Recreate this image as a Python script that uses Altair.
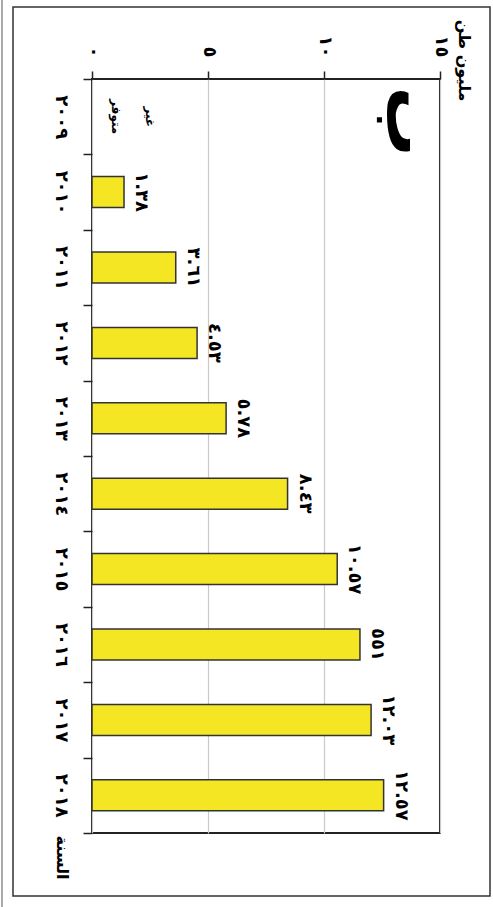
import altair as alt
import pandas as pd

# Annual output, million tonnes (2009 not available)
years = ["٢٠٠٩", "٢٠١٠", "٢٠١١", "٢٠١٢", "٢٠١٣", "٢٠١٤", "٢٠١٥", "٢٠١٦", "٢٠١٧", "٢٠١٨"]
values = [None, 1.38, 3.61, 4.53, 5.78, 8.43, 10.57, 11.55, 12.03, 12.57]
value_labels = ["", "١.٣٨", "٣.٦١", "٤.٥٣", "٥.٧٨", "٨.٤٣", "١٠.٥٧", "٥٥١", "١٢.٠٣", "١٢.٥٧"]

x_ticks = [0, 5, 10, 15]
x_tick_labels = ["٠", "٥", "١٠", "١٥"]

# "not available" note for 2009, one word per line
note_words = ["غير", "متوفر"]
note_pos = [2.5, 1.05]
panel_letter = "ب"
value_title = "مليون طن"
year_title = "السنة"

FONT = "DejaVu Sans"

df = pd.DataFrame({"year": years, "value": values, "label": value_labels})

# tick label expression mapping numbers to Arabic-Indic digits
label_expr = "''"
for t, s in reversed(list(zip(x_ticks, x_tick_labels))):
    label_expr = f"datum.value == {t} ? '{s}' : ({label_expr})"

x_axis = alt.Axis(
    orient="top", values=x_ticks, labelExpr=label_expr,
    grid=True, gridColor="#cdc8c4", gridWidth=1.2,
    domain=False, ticks=True, tickSize=8, tickColor="#222", tickWidth=1.5,
    labelAngle=90, labelAlign="right", labelBaseline="middle", labelPadding=14,
    labelFont=FONT, labelFontSize=18, labelFontWeight="bold", labelColor="black",
    title=value_title, titleAngle=90, titleAlign="center", titleBaseline="middle",
    titleX=371, titleY=-19, titleFont=FONT, titleFontSize=16, titleFontWeight="bold",
    titleColor="black",
)
y_axis = alt.Axis(
    orient="left", domain=False, grid=False, tickBand="extent",
    tickSize=9, tickColor="#222", tickWidth=1.5,
    labelAngle=90, labelAlign="center", labelBaseline="top", labelPadding=14,
    labelFont=FONT, labelFontSize=18, labelFontWeight="bold", labelColor="black",
    title=year_title, titleAngle=90, titleAlign="center", titleBaseline="middle",
    titleX=-31, titleY=778, titleFont=FONT, titleFontSize=16, titleFontWeight="bold",
    titleColor="black",
)

x_enc = alt.X("value:Q", scale=alt.Scale(domain=[0, 15], nice=False), axis=x_axis)
y_enc = alt.Y("year:N", sort=years, scale=alt.Scale(paddingInner=0, paddingOuter=0), axis=y_axis)

frame = alt.Chart(pd.DataFrame({"k": [0]})).mark_rect(
    fill="transparent", stroke="#333", strokeWidth=1.5
).encode(x=alt.value(-79), x2=alt.value(398), y=alt.value(-72), y2=alt.value(817))

edge = alt.Chart(pd.DataFrame({"k": [0]})).mark_rule(
    color="#555", strokeWidth=1
).encode(x=alt.value(-90), y=alt.value(-79), y2=alt.value(828))

bars = alt.Chart(df).mark_bar(
    size=31, fill="#F4E623", stroke="#333", strokeWidth=1.5
).encode(x=x_enc, y=y_enc)

labels = alt.Chart(df).transform_filter("isValid(datum.value)").mark_text(
    angle=90, align="center", baseline="middle", xOffset=17,
    font=FONT, fontSize=18, fontWeight="bold", color="black"
).encode(x="value:Q", y=alt.Y("year:N", sort=years), text="label:N")

note = alt.Chart(pd.DataFrame({"year": [years[0]] * 2, "pos": note_pos, "word": note_words})).mark_text(
    angle=90, align="center", baseline="middle",
    font=FONT, fontSize=12, fontWeight="bold", color="black"
).encode(x="pos:Q", y=alt.Y("year:N", sort=years), text="word:N")

letter = alt.Chart(pd.DataFrame({"year": [years[0]], "pos": [13.6]})).mark_text(
    text=panel_letter, angle=90, align="center", baseline="middle", yOffset=5,
    font=FONT, fontSize=70, fontWeight="bold", color="black"
).encode(x="pos:Q", y=alt.Y("year:N", sort=years))

chart = alt.layer(edge, frame, bars, labels, note, letter).properties(
    width=348, height=754,
    padding={"left": 92, "top": 79, "right": 53, "bottom": 74},
    autosize=alt.AutoSizeParams(type="none"),
    background="white",
).configure_view(stroke="#222", strokeWidth=2)

chart.save("out.html", embed_options={"renderer": "svg", "actions": False})
